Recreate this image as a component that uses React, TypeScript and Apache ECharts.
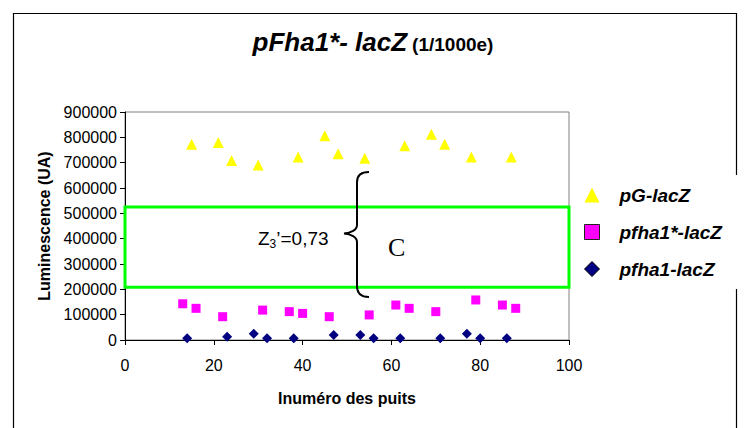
import React, { useEffect, useRef } from 'react';
import * as echarts from 'echarts';

// ---- data ----
const titleMain = 'pFha1*- lacZ';
const titleSub = '(1/1000e)';
const xAxisTitle = 'Inuméro des puits';
const yAxisTitle = 'Luminescence (UA)';
const seriesNames = ['pG-lacZ', 'pfha1*-lacZ', 'pfha1-lacZ'];

const pgX = [15, 21, 24, 30, 39, 45, 48, 54, 63, 69, 72, 78, 87];
const pgY = [773000, 780000, 709000, 691000, 722000, 806000, 735000, 717000, 767000, 812000, 773000, 722000, 722000];

const starX = [13, 16, 22, 31, 37, 40, 46, 55, 61, 64, 70, 79, 85, 88];
const starY = [143000, 125000, 92000, 118000, 112000, 105000, 92000, 99000, 138000, 125000, 112000, 158000, 138000, 125000];

const fhaX = [14, 23, 29, 32, 38, 47, 53, 56, 62, 71, 77, 80, 86];
const fhaY = [7000, 13000, 25000, 7000, 7000, 20000, 20000, 7000, 7000, 7000, 25000, 7000, 7000];

const xMin = 0, xMax = 100, xStep = 20;
const yMin = 0, yMax = 900000, yStep = 100000;

// Z'-factor window (band between controls)
const bandLow = 208000;
const bandHigh = 525000;
const zLabel = '{a|Z}{b|3}{a|’=0,73}';
const cLabel = 'C';

const bracePath =
  'M 25 0 C 17 0 13 3 13 10 L 13 53 C 13 58 7 61 0 61.5 C 7 62 13 65 13 70 L 13 114 C 13 121 17 125 25 125';
echarts.graphic.registerShape('brace', echarts.graphic.extendPath(bracePath, {}));

const pairs = (xs: number[], ys: number[]) => xs.map((x, i) => [x, ys[i]]);

const FONT = '"Liberation Sans", Arial, sans-serif';

export default function App() {
  const ref = useRef<HTMLDivElement>(null);
  useEffect(() => {
    document.body.style.margin = '0';
    const chart = echarts.init(ref.current!, undefined, { renderer: 'svg' });
    chart.setOption({
      animation: false,
      backgroundColor: '#fff',
      title: {
        text: `{a|${titleMain}} {b|${titleSub}}`,
        left: 'center',
        top: 22,
        textStyle: {
          rich: {
            a: { fontFamily: FONT, fontSize: 26, fontWeight: 'bold', fontStyle: 'italic', color: '#000', lineHeight: 30 },
            b: { fontFamily: FONT, fontSize: 19, fontWeight: 'bold', color: '#000', lineHeight: 30, padding: [4, 0, 0, 0] },
          },
        },
      },
      grid: {
        left: 125, right: 177, top: 112, bottom: 88,
        show: true, borderColor: '#808080', borderWidth: 1, backgroundColor: 'transparent',
      },
      legend: {
        orient: 'vertical',
        left: 572,
        top: 175,
        padding: [10, 30, 10, 12],
        backgroundColor: '#fff',
        itemWidth: 15,
        itemHeight: 15,
        itemGap: 17,
        z: 10,
        textStyle: {
          fontFamily: FONT, fontSize: 19, fontWeight: 'bold', fontStyle: 'italic', color: '#000',
          lineHeight: 20, padding: [0, 0, 0, 15],
        },
        data: [
          { name: seriesNames[0] },
          { name: seriesNames[1], itemStyle: { borderColor: '#222', borderWidth: 1 } },
          { name: seriesNames[2], itemStyle: { borderColor: '#000', borderWidth: 1 } },
        ],
      },
      xAxis: {
        type: 'value', min: xMin, max: xMax, interval: xStep,
        name: xAxisTitle, nameLocation: 'middle', nameGap: 50,
        nameTextStyle: { fontFamily: FONT, fontSize: 16, fontWeight: 'bold', color: '#000' },
        axisLine: { show: true, lineStyle: { color: '#000', width: 1 } },
        axisTick: { show: true, inside: false, length: 5, lineStyle: { color: '#000' } },
        axisLabel: { fontFamily: FONT, fontSize: 16, color: '#000', margin: 17 },
        splitLine: { show: false },
      },
      yAxis: {
        type: 'value', min: yMin, max: yMax, interval: yStep,
        name: yAxisTitle, nameLocation: 'middle', nameGap: 70,
        nameTextStyle: { fontFamily: FONT, fontSize: 16, fontWeight: 'bold', color: '#000' },
        axisLine: { show: true, lineStyle: { color: '#000', width: 1 } },
        axisTick: { show: true, inside: false, length: 5, lineStyle: { color: '#000' } },
        axisLabel: { fontFamily: FONT, fontSize: 16, color: '#000', margin: 8, formatter: (v: number) => String(v) },
        splitLine: { show: false },
      },
      series: [
        {
          name: seriesNames[0], type: 'scatter', symbol: 'triangle', symbolSize: 11,
          itemStyle: { color: '#FFFF00', opacity: 1 },
          data: pairs(pgX, pgY),
          markArea: {
            silent: true,
            itemStyle: { color: 'rgba(0,0,0,0)', borderColor: '#00FF00', borderWidth: 3 },
            data: [[{ xAxis: xMin, yAxis: bandLow }, { xAxis: xMax, yAxis: bandHigh }]],
          },
        },
        {
          name: seriesNames[1], type: 'scatter', symbol: 'rect', symbolSize: 9,
          itemStyle: { color: '#FF00FF', opacity: 1 },
          data: pairs(starX, starY),
        },
        {
          name: seriesNames[2], type: 'scatter', symbol: 'diamond', symbolSize: [10, 10],
          itemStyle: { color: '#000080', opacity: 1 },
          data: pairs(fhaX, fhaY),
        },
      ],
      graphic: [
        {
          type: 'rect', z: 0,
          shape: { x: 13.5, y: 13.5, width: 723, height: 440 },
          style: { fill: 'none', stroke: '#000', lineWidth: 1.2 },
        },
        {
          type: 'brace', x: 344, y: 172, z: 5,
          style: { fill: 'none', stroke: '#000', lineWidth: 2 },
        },
        {
          type: 'text', x: 258, y: 238, z: 5,
          style: {
            text: zLabel, fill: '#000', verticalAlign: 'middle', textVerticalAlign: 'middle',
            rich: {
              a: { fontFamily: FONT, fontSize: 19, fill: '#000', color: '#000', lineHeight: 24 },
              b: { fontFamily: FONT, fontSize: 12, fill: '#000', color: '#000', lineHeight: 15, verticalAlign: 'bottom' },
            },
          },
        },
        {
          type: 'text', x: 388, y: 247, z: 5,
          style: {
            text: cLabel, fill: '#000', font: '26px "Liberation Serif", "Times New Roman", serif',
            verticalAlign: 'middle', textVerticalAlign: 'middle',
          },
        },
      ],
    });
    return () => chart.dispose();
  }, []);
  return <div ref={ref} style={{ width: 746, height: 428 }} />;
}
